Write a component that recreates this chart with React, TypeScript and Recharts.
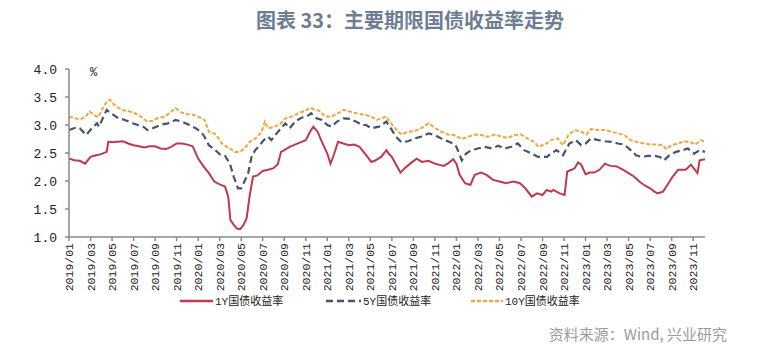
import { CartesianGrid, Line, LineChart, XAxis, YAxis } from 'recharts';

// months since 2019/01 and yields (%)
const M1 = [0, 0.5, 1, 1.5, 2, 2.5, 3, 3.5, 3.65, 4, 4.5, 5, 5.5, 6, 6.5, 7, 7.5, 8, 8.5, 9, 9.5, 10, 10.5, 11, 11.5, 12, 12.5, 13, 13.5, 14, 14.5, 14.8, 15, 15.3, 15.6, 15.9, 16.2, 16.5, 16.8, 17.1, 17.5, 18, 18.5, 19, 19.4, 19.7, 20, 20.5, 21, 21.5, 22, 22.4, 22.7, 23.1, 23.5, 24, 24.3, 24.6, 25, 25.5, 26, 26.5, 27, 27.5, 28.1, 28.5, 29, 29.5, 29.7, 30, 30.4, 30.8, 31.2, 31.7, 32.3, 32.8, 33.4, 34, 34.8, 35.2, 35.7, 36, 36.3, 36.8, 37.3, 37.7, 38.3, 38.8, 39.4, 40, 40.6, 41.3, 41.9, 42.4, 43, 43.5, 44, 44.4, 44.8, 45, 45.6, 46.05, 46.3, 46.7, 47, 47.3, 47.6, 48, 48.4, 48.8, 49.3, 49.8, 50.3, 50.9, 51.5, 52, 52.5, 53, 53.5, 54, 54.4, 54.7, 55.2, 55.6, 56.1, 56.6, 57.3, 57.8, 58, 58.4, 58.6, 59.1];
const Y1 = [2.40, 2.37, 2.36, 2.31, 2.43, 2.46, 2.48, 2.52, 2.70, 2.69, 2.70, 2.71, 2.67, 2.64, 2.62, 2.60, 2.62, 2.62, 2.58, 2.57, 2.61, 2.67, 2.67, 2.65, 2.62, 2.40, 2.26, 2.14, 1.99, 1.94, 1.90, 1.72, 1.30, 1.22, 1.15, 1.14, 1.21, 1.33, 1.75, 2.08, 2.10, 2.18, 2.20, 2.23, 2.30, 2.52, 2.55, 2.61, 2.65, 2.69, 2.73, 2.88, 2.97, 2.88, 2.70, 2.49, 2.31, 2.46, 2.70, 2.67, 2.64, 2.65, 2.61, 2.49, 2.34, 2.37, 2.43, 2.55, 2.49, 2.43, 2.29, 2.15, 2.23, 2.31, 2.40, 2.34, 2.36, 2.31, 2.27, 2.31, 2.39, 2.31, 2.11, 1.96, 1.93, 2.11, 2.15, 2.11, 2.02, 1.99, 1.96, 1.99, 1.96, 1.87, 1.72, 1.78, 1.75, 1.84, 1.81, 1.84, 1.78, 1.75, 2.17, 2.20, 2.23, 2.33, 2.29, 2.12, 2.15, 2.15, 2.20, 2.31, 2.27, 2.26, 2.20, 2.14, 2.08, 1.99, 1.92, 1.87, 1.81, 1.78, 1.81, 1.93, 2.08, 2.20, 2.20, 2.29, 2.24, 2.14, 2.37, 2.39];

const M5 = [0, 0.6, 1, 1.6, 2.1, 2.6, 2.8, 3, 3.5, 3.9, 4.6, 5.2, 5.9, 6.4, 6.9, 7.3, 7.9, 8.6, 9.2, 9.9, 10.5, 11.2, 11.8, 12.2, 12.5, 13, 13.6, 14.1, 14.5, 14.95, 15.3, 15.7, 16, 16.3, 16.65, 16.96, 17.3, 17.6, 18.1, 18.5, 18.8, 19.3, 19.7, 20.1, 20.5, 21, 21.6, 22.1, 22.5, 23, 23.5, 24, 24.4, 24.9, 25.5, 26.1, 26.7, 27.2, 27.6, 28.1, 28.8, 29.5, 29.8, 30.4, 30.9, 31.5, 32.1, 32.7, 33.4, 34, 34.6, 35.2, 35.7, 36, 36.5, 36.9, 37.4, 38, 38.6, 39.3, 39.9, 40.5, 41.1, 41.7, 42.3, 43, 43.6, 44.4, 44.8, 45.3, 45.9, 46.5, 47.1, 47.6, 48, 48.5, 49.2, 49.8, 50.4, 51, 51.6, 52.2, 52.7, 53.2, 53.8, 54.4, 54.9, 55.3, 55.8, 56.4, 57, 57.5, 58.1, 58.6, 59.1];
const Y5 = [2.91, 2.95, 2.94, 2.82, 2.94, 3.03, 2.97, 3.06, 3.27, 3.21, 3.12, 3.09, 3.03, 3.00, 2.97, 2.91, 2.95, 3.01, 3.03, 3.09, 3.06, 3.00, 2.94, 2.88, 2.82, 2.64, 2.55, 2.46, 2.45, 2.31, 2.08, 1.87, 1.87, 1.99, 2.14, 2.43, 2.55, 2.61, 2.73, 2.79, 2.73, 2.85, 2.94, 3.03, 2.94, 3.06, 3.13, 3.15, 3.21, 3.12, 3.09, 3.00, 2.97, 3.06, 3.12, 3.11, 3.06, 3.00, 3.00, 2.94, 2.97, 3.06, 2.97, 2.79, 2.69, 2.71, 2.76, 2.79, 2.85, 2.82, 2.76, 2.71, 2.67, 2.61, 2.37, 2.49, 2.55, 2.58, 2.61, 2.58, 2.63, 2.58, 2.61, 2.67, 2.55, 2.49, 2.43, 2.43, 2.49, 2.55, 2.46, 2.67, 2.73, 2.64, 2.67, 2.76, 2.73, 2.71, 2.70, 2.67, 2.65, 2.55, 2.46, 2.43, 2.45, 2.45, 2.43, 2.37, 2.46, 2.52, 2.55, 2.58, 2.49, 2.55, 2.52];

const M10 = [0, 0.55, 1, 1.5, 1.9, 2.4, 2.7, 3, 3.5, 3.8, 4.2, 4.9, 5.5, 6.1, 6.7, 7.2, 7.7, 8.2, 8.9, 9.5, 9.9, 10.4, 11, 11.6, 12, 12.6, 13, 13.5, 13.9, 14.2, 14.5, 14.95, 15.4, 15.9, 16.3, 16.8, 17.4, 17.9, 18.2, 18.5, 19.1, 19.6, 20.1, 20.7, 21.3, 21.9, 22.4, 22.9, 23.3, 23.8, 24.4, 25, 25.5, 26.1, 26.7, 27.5, 28.1, 28.6, 29, 29.5, 29.8, 30.3, 30.9, 31.5, 32.1, 32.7, 33.4, 34, 34.6, 35.2, 35.8, 36.5, 37.1, 37.7, 38.3, 38.9, 39.6, 40.2, 40.8, 41.4, 42, 42.6, 43.3, 43.6, 44, 44.4, 44.8, 45.4, 45.9, 46.4, 47, 47.6, 48.1, 48.5, 49.2, 49.8, 50.4, 51, 51.6, 52.2, 52.9, 53.5, 54.1, 54.7, 55.2, 55.5, 56, 56.6, 57.2, 57.8, 58.2, 58.7, 59.1];
const Y10 = [3.15, 3.12, 3.10, 3.14, 3.24, 3.17, 3.14, 3.25, 3.42, 3.45, 3.36, 3.27, 3.25, 3.21, 3.15, 3.07, 3.07, 3.12, 3.15, 3.24, 3.30, 3.23, 3.19, 3.18, 3.15, 3.09, 2.88, 2.85, 2.76, 2.67, 2.63, 2.58, 2.52, 2.52, 2.58, 2.70, 2.77, 2.88, 3.06, 2.94, 2.97, 3.01, 3.12, 3.15, 3.21, 3.25, 3.31, 3.27, 3.25, 3.15, 3.15, 3.21, 3.27, 3.24, 3.21, 3.18, 3.15, 3.09, 3.12, 3.15, 3.06, 2.94, 2.83, 2.88, 2.89, 2.94, 3.03, 2.95, 2.88, 2.83, 2.82, 2.75, 2.79, 2.83, 2.82, 2.79, 2.83, 2.79, 2.77, 2.82, 2.83, 2.76, 2.69, 2.61, 2.64, 2.67, 2.73, 2.76, 2.64, 2.82, 2.91, 2.88, 2.83, 2.93, 2.91, 2.91, 2.88, 2.85, 2.82, 2.73, 2.69, 2.67, 2.65, 2.65, 2.64, 2.57, 2.64, 2.67, 2.71, 2.69, 2.65, 2.73, 2.70];

const X_TICKS = [0, 2, 4, 6, 8, 10, 12, 14, 16, 18, 20, 22, 24, 26, 28, 30, 32, 34, 36, 38, 40, 42, 44, 46, 48, 50, 52, 54, 56, 58];
const X_LABELS = ['2019/01', '2019/03', '2019/05', '2019/07', '2019/09', '2019/11', '2020/01', '2020/03', '2020/05', '2020/07', '2020/09', '2020/11', '2021/01', '2021/03', '2021/05', '2021/07', '2021/09', '2021/11', '2022/01', '2022/03', '2022/05', '2022/07', '2022/09', '2022/11', '2023/01', '2023/03', '2023/05', '2023/07', '2023/09', '2023/11'];
const Y_TICKS = [1, 1.5, 2, 2.5, 3, 3.5, 4];

const RED = '#c0394d';
const NAVY = '#44546a';
const ORANGE = '#f2a53a';
const MONO = '"Liberation Mono", "Noto Sans CJK SC", monospace';

const toRows = (m: number[], y: number[]) => m.map((t, i) => ({ t, v: y[i] }));

function XTick({ x, y, payload }: any) {
  const label = X_LABELS[X_TICKS.indexOf(payload.value)] ?? '';
  return (
    <text
      transform={`translate(${x},${y}) rotate(-90)`}
      textAnchor="end"
      dy={4}
      fontSize={11.5}
      fontFamily={MONO}
      fill="#222"
    >
      {label}
    </text>
  );
}

export default function App() {
  const d1 = toRows(M1, Y1);
  const d5 = toRows(M5, Y5);
  const d10 = toRows(M10, Y10);

  return (
    <div style={{ position: 'relative', width: 769, height: 352, margin: -8, background: '#fff' }}>
      <div
        style={{
          position: 'absolute',
          left: 0,
          width: 820,
          top: 5,
          textAlign: 'center',
          fontFamily: '"Noto Sans CJK SC", sans-serif',
          fontWeight: 700,
          fontSize: 20,
          color: '#6d7d94',
        }}
      >
        图表 33：主要期限国债收益率走势
      </div>
      <div style={{ position: 'absolute', left: 0, top: 0 }}>
        <LineChart width={769} height={352} data={d1} margin={{ top: 69, right: 64, bottom: 55, left: 19 }}>
          <CartesianGrid stroke="none" />
          <XAxis
            dataKey="t"
            type="number"
            domain={[0, 59.1]}
            ticks={X_TICKS}
            interval={0}
            height={60}
            tickSize={4}
            tickMargin={2}
            tick={<XTick />}
            stroke="#8a8a8a"
            strokeWidth={1.5}
          />
          <YAxis
            type="number"
            domain={[1, 4]}
            ticks={Y_TICKS}
            width={50}
            tickSize={4}
            tickMargin={8}
            tickFormatter={(v: number) => v.toFixed(1)}
            tick={{ fontSize: 13, fontFamily: MONO, fill: '#222' }}
            stroke="#8a8a8a"
            strokeWidth={1.5}
          />
          <Line data={d1} dataKey="v" stroke={RED} strokeWidth={2} dot={false} isAnimationActive={false} />
          <Line data={d5} dataKey="v" stroke={NAVY} strokeWidth={2.2} strokeDasharray="7 4" dot={false} isAnimationActive={false} />
          <Line data={d10} dataKey="v" stroke={ORANGE} strokeWidth={2} strokeDasharray="4 2" dot={false} isAnimationActive={false} />
        </LineChart>
      </div>
      <div style={{ position: 'absolute', left: 90, top: 66, fontSize: 12, fontFamily: MONO, color: '#222' }}>%</div>
      <svg style={{ position: 'absolute', left: 0, top: 291 }} width={769} height={20}>
        <line x1={180} x2={213} y1={10} y2={10} stroke={RED} strokeWidth={2.5} />
        <text x={215} y={14} fontSize={11} fontFamily={MONO} fill="#222">1Y国债收益率</text>
        <line x1={326} x2={361} y1={10} y2={10} stroke={NAVY} strokeWidth={2.5} strokeDasharray="7 4" />
        <text x={363} y={14} fontSize={11} fontFamily={MONO} fill="#222">5Y国债收益率</text>
        <line x1={471} x2={503} y1={10} y2={10} stroke={ORANGE} strokeWidth={2.5} strokeDasharray="4 2" />
        <text x={505} y={14} fontSize={11} fontFamily={MONO} fill="#222">10Y国债收益率</text>
      </svg>
      <div
        style={{
          position: 'absolute',
          right: 42,
          top: 323,
          fontSize: 15,
          fontFamily: '"Noto Sans CJK SC", sans-serif',
          color: '#9b9b9b',
        }}
      >
        资料来源：Wind, 兴业研究
      </div>
    </div>
  );
}
